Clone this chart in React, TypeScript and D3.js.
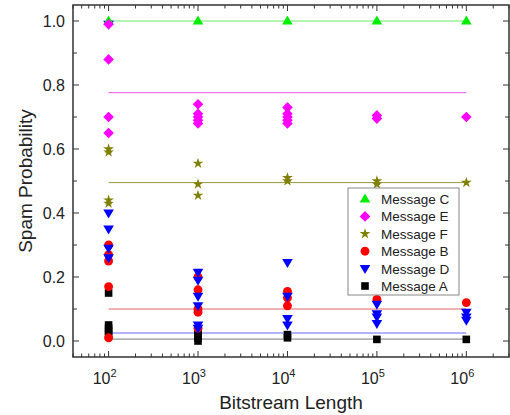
import React from "react";
import * as d3 from "d3";

const lengths = [1e2, 1e3, 1e4, 1e5, 1e6];
const xTickLabels = ["2", "3", "4", "5", "6"];
const yTicks = [0, 0.2, 0.4, 0.6, 0.8, 1.0];

const msgC = [[1.0], [1.0], [1.0], [1.0], [1.0]];
const msgE = [[0.99, 0.88, 0.7, 0.65], [0.74, 0.71, 0.7, 0.69, 0.68], [0.73, 0.71, 0.7, 0.69, 0.68], [0.705, 0.695], [0.7]];
const msgF = [[0.6, 0.59, 0.44, 0.43], [0.555, 0.49, 0.455], [0.51, 0.5], [0.5, 0.49], [0.495]];
const msgB = [[0.3, 0.27, 0.25, 0.17, 0.01], [0.2, 0.16, 0.1, 0.09, 0.04], [0.155, 0.135, 0.11], [0.13], [0.12]];
const msgD = [[0.99, 0.4, 0.35, 0.29, 0.26], [0.215, 0.19, 0.14, 0.11, 0.05, 0.04], [0.245, 0.14, 0.07, 0.05], [0.115, 0.085, 0.075, 0.055], [0.09, 0.075, 0.065]];
const msgA = [[0.15, 0.05, 0.04, 0.03, 0.02], [0.03, 0.02, 0.01, 0.0], [0.02, 0.01], [0.005], [0.005]];

const means = { C: 1.0, E: 0.776, F: 0.495, B: 0.1, D: 0.025, A: 0.006 };

type Shape = "triUp" | "diamond" | "star" | "circle" | "triDown" | "square";
const series: { key: keyof typeof means; name: string; color: string; line: string; shape: Shape; data: number[][] }[] = [
  { key: "C", name: "Message C", color: "#00ee00", line: "#66ee66", shape: "triUp", data: msgC },
  { key: "E", name: "Message E", color: "#ff00ff", line: "#ee55ee", shape: "diamond", data: msgE },
  { key: "F", name: "Message F", color: "#808000", line: "#999944", shape: "star", data: msgF },
  { key: "B", name: "Message B", color: "#ff0000", line: "#e06666", shape: "circle", data: msgB },
  { key: "D", name: "Message D", color: "#0000ff", line: "#6666ff", shape: "triDown", data: msgD },
  { key: "A", name: "Message A", color: "#000000", line: "#777777", shape: "square", data: msgA },
];
const drawOrder = ["A", "B", "D", "C", "F", "E"];

function shapePath(s: Shape): string {
  switch (s) {
    case "triUp": return "M0,-5.5L5.3,3.5L-5.3,3.5Z";
    case "triDown": return "M0,5.5L5.3,-3.5L-5.3,-3.5Z";
    case "diamond": return "M0,-5.3L5.3,0L0,5.3L-5.3,0Z";
    case "square": return "M-3.8,-3.8H3.8V3.8H-3.8Z";
    case "circle": return d3.symbol(d3.symbolCircle, 62)() as string;
    case "star": return d3.symbol(d3.symbolStar, 36)() as string;
  }
}

const W = 510, H = 415;
const L = 73, R = 509, T = 5, B = 357;
const font = "'Liberation Sans', Arial, sans-serif";

export default function App() {
  const x = d3.scaleLog().domain([40, 3e6]).range([L, R]);
  const y = d3.scaleLinear().domain([-0.05, 1.05]).range([B, T]);

  const minorX: number[] = [];
  for (let e = 1; e <= 6; e++) for (let m = 1; m <= 9; m++) {
    const v = m * Math.pow(10, e);
    if (v >= 40 && v <= 3e6) minorX.push(v);
  }
  const yAll = d3.range(0, 11).map((i) => i / 10);
  const axisColor = "#333";

  return (
    <svg width={W} height={H} style={{ position: "absolute", left: 0, top: 0 }}>
      <rect x={0} y={0} width={W} height={H} fill="#fff" />
      {series.map((s) => (
        <line key={"l" + s.key} x1={x(lengths[0])} x2={x(lengths[4])} y1={y(means[s.key])} y2={y(means[s.key])} stroke={s.line} strokeWidth={1} />
      ))}
      {drawOrder.map((k) => {
        const s = series.find((q) => q.key === k)!;
        const p = shapePath(s.shape);
        return (
          <g key={"m" + k} fill={s.color}>
            {s.data.map((vals, i) => vals.map((v, j) => (
              <path key={i + "-" + j} d={p} transform={`translate(${x(lengths[i])},${y(v)})`} />
            )))}
          </g>
        );
      })}
      <rect x={L} y={T} width={R - L} height={B - T} fill="none" stroke={axisColor} strokeWidth={1.5} />
      {minorX.map((v, i) => {
        const major = Math.abs(Math.log10(v) - Math.round(Math.log10(v))) < 1e-9;
        const len = major ? 6 : 3.5;
        return (
          <g key={"xt" + i} stroke={axisColor} strokeWidth={1}>
            <line x1={x(v)} x2={x(v)} y1={B} y2={B - len} />
            <line x1={x(v)} x2={x(v)} y1={T} y2={T + len} />
          </g>
        );
      })}
      {yAll.map((v, i) => {
        const len = i % 2 === 0 ? 6 : 4;
        return (
          <g key={"yt" + i} stroke={axisColor} strokeWidth={1}>
            <line x1={L} x2={L + len} y1={y(v)} y2={y(v)} />
            <line x1={R} x2={R - len} y1={y(v)} y2={y(v)} />
          </g>
        );
      })}
      {yTicks.map((v) => (
        <text key={"yl" + v} x={65} y={y(v) + 5.5} textAnchor="end" fontFamily={font} fontSize={16} fill="#222">{v.toFixed(1)}</text>
      ))}
      {lengths.map((v, i) => (
        <text key={"xl" + i} x={x(v) - 4} y={384} textAnchor="middle" fontFamily={font} fontSize={16} fill="#222">
          10<tspan dy={-7} fontSize={11}>{xTickLabels[i]}</tspan>
        </text>
      ))}
      <text x={(L + R) / 2} y={409} textAnchor="middle" fontFamily={font} fontSize={19} fill="#222">Bitstream Length</text>
      <text transform={`translate(32,${(T + B) / 2}) rotate(-90)`} textAnchor="middle" fontFamily={font} fontSize={19} fill="#222">Spam Probability</text>
      <rect x={348} y={188} width={111} height={107} fill="#fff" stroke="#888" strokeWidth={1} />
      {series.map((s, i) => (
        <g key={"lg" + s.key} transform={`translate(0,${199 + i * 17.4})`}>
          <path d={shapePath(s.shape)} fill={s.color} transform="translate(365,0)" />
          <text x={381} y={5} fontFamily={font} fontSize={13.5} fill="#222">{s.name}</text>
        </g>
      ))}
    </svg>
  );
}
